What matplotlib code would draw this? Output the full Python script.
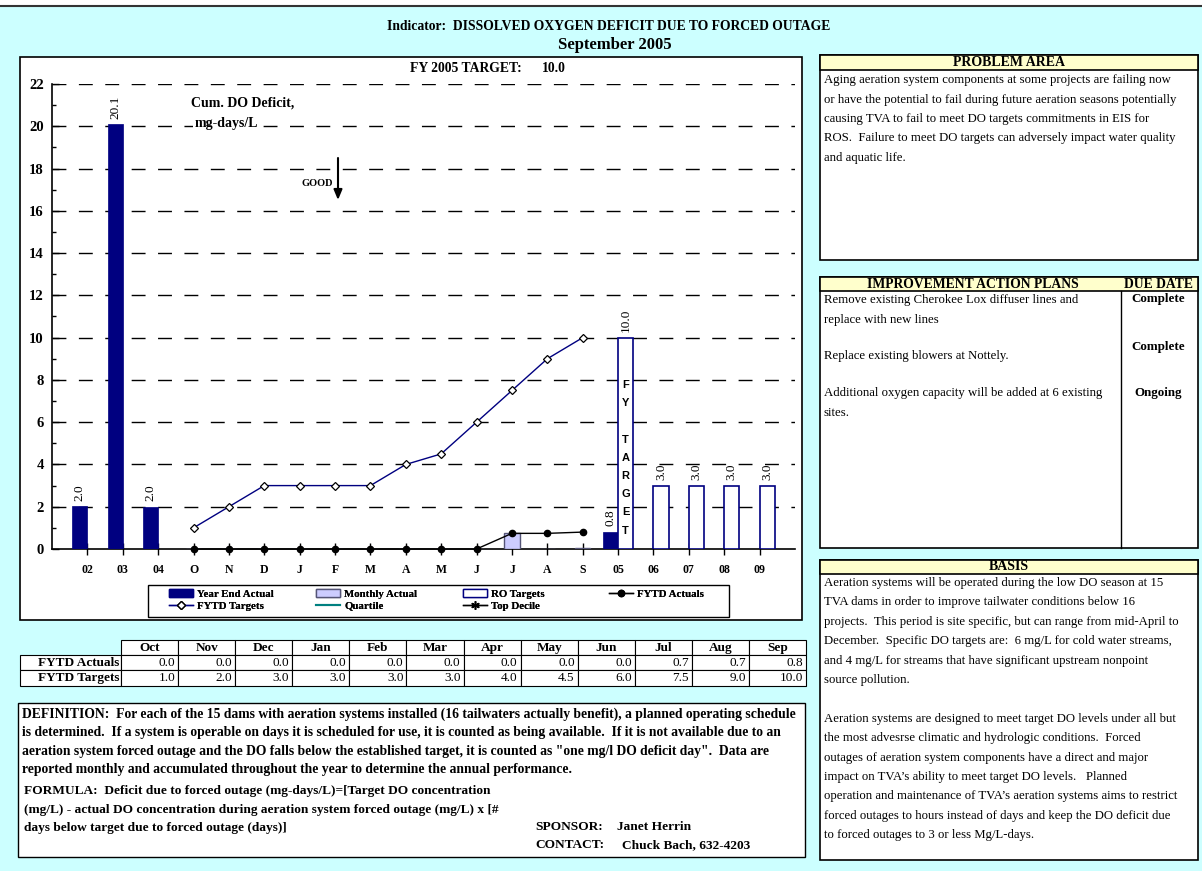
import matplotlib
matplotlib.use("Agg")
import matplotlib.pyplot as plt
from matplotlib.patches import Rectangle, Patch
from matplotlib.lines import Line2D
import numpy as np

# ---------------- data ----------------
history_labels = ["02", "03", "04"]
history_actual = [2.04, 20.1, 2.0]
month_labels = ["O", "N", "D", "J", "F", "M", "A", "M", "J", "J", "A", "S"]
month_names = ["Oct", "Nov", "Dec", "Jan", "Feb", "Mar", "Apr", "May", "Jun", "Jul", "Aug", "Sep"]
monthly_actual = [0, 0, 0, 0, 0, 0, 0, 0, 0, 0.74, 0, 0.06]
fytd_actuals = [0.0, 0.0, 0.0, 0.0, 0.0, 0.0, 0.0, 0.0, 0.0, 0.74, 0.74, 0.8]
fytd_targets = [1.0, 2.0, 3.0, 3.0, 3.0, 3.0, 4.0, 4.5, 6.0, 7.5, 9.0, 10.0]
fy_label = "05"
fy_actual = 0.82
fy_target = 10.0
future_labels = ["06", "07", "08", "09"]
future_targets = [3.0, 3.0, 3.0, 3.0]

categories = history_labels + month_labels + [fy_label] + future_labels

# ---------------- setup ----------------
W, H = 1202, 871
SERIF = "Liberation Serif"
SANS = "Liberation Sans"
CYAN = "#CCFFFF"
YELLOW = "#FFFFCC"
NAVY = "#000080"

fig = plt.figure(figsize=(W / 100, H / 100), dpi=100)
fig.patch.set_facecolor(CYAN)


def P(x, y):
    return (x / W, 1 - y / H)


def ftext(x, y, s, size=9, weight="normal", ha="left", va="center", family=SERIF, **kw):
    return fig.text(x / W, 1 - y / H, s, fontsize=size, fontweight=weight, ha=ha, va=va,
                    family=family, **kw)


def frect(x0, y0, x1, y1, fc="white", ec="black", lw=1.0, z=0):
    fig.add_artist(Rectangle((x0 / W, 1 - y1 / H), (x1 - x0) / W, (y1 - y0) / H,
                             transform=fig.transFigure, facecolor=fc, edgecolor=ec,
                             linewidth=lw, zorder=z))


def fline(x0, y0, x1, y1, color="black", lw=1.0, z=1):
    fig.add_artist(Line2D([x0 / W, x1 / W], [1 - y0 / H, 1 - y1 / H],
                          transform=fig.transFigure, color=color, linewidth=lw, zorder=z))


# top white strip + line
frect(0, 0, W, 6, fc="white", ec="none", z=0)
fline(0, 6, W, 6, color="#333333", lw=1.5)

# titles
ftext(609, 26, "Indicator:  DISSOLVED OXYGEN DEFICIT DUE TO FORCED OUTAGE", size=9.8,
      weight="bold", ha="center")
ftext(615, 45, "September 2005", size=12, weight="bold", ha="center")

# chart frame
frect(20, 57, 802, 620, fc="white", ec="black", lw=1.2, z=0)
ftext(410, 68, "FY 2005 TARGET:", size=9.8, weight="bold")
ftext(542, 68, f"{fy_target:.1f}", size=9.8, weight="bold")

# ---------------- main axes ----------------
ax_l, ax_r, ax_t, ax_b = 52, 795, 84, 549
ax = fig.add_axes([ax_l / W, 1 - ax_b / H, (ax_r - ax_l) / W, (ax_b - ax_t) / H])
ax.patch.set_alpha(0)

n = len(categories)
x = np.arange(n)
w = 0.43
hist_x = x[:3]
month_x = x[3:15]
fy_x = x[15]
fut_x = x[16:]

ye_x = list(hist_x) + [fy_x]
ye_v = history_actual + [fy_actual]
ax.bar(np.array(ye_x) - w / 2, ye_v, width=w, color=NAVY, edgecolor=NAVY, linewidth=0.5, zorder=3)
ax.bar(month_x, monthly_actual, width=w, color="#CCCCFF", edgecolor="#555577", linewidth=1.0, zorder=3)
ro_x = [fy_x] + list(fut_x)
ro_v = [fy_target] + future_targets
ax.bar(np.array(ro_x) + w / 2, ro_v, width=w, color="white", edgecolor=NAVY, linewidth=1.2, zorder=3)

ax.plot(month_x, fytd_targets, color=NAVY, lw=1.0, marker="D", ms=4, mfc="white",
        mec="black", mew=0.9, zorder=5)
ax.plot(month_x, fytd_actuals, color="black", lw=1.0, marker="o", ms=4.5, mfc="black",
        mec="black", zorder=6, clip_on=False)

# value labels
for xi, v in zip(ye_x, ye_v):
    ax.text(xi - w / 2, v + 0.25, f"{v:.1f}", rotation=90, ha="center", va="bottom",
            fontsize=9.5, family=SERIF, zorder=7)
for xi, v in zip(ro_x, ro_v):
    ax.text(xi + w / 2, v + 0.25, f"{v:.1f}", rotation=90, ha="center", va="bottom",
            fontsize=9.5, family=SERIF, zorder=7)

# FY TARGET vertical letters
letters = ["F", "Y", "", "T", "A", "R", "G", "E", "T"]
ly = 7.75
for ch in letters:
    if ch:
        ax.text(fy_x + w / 2, ly, ch, ha="center", va="center", fontsize=8,
                fontweight="bold", family=SANS, zorder=7)
    ly -= 0.86

ax.set_xlim(-1, n)
ax.set_ylim(0, 22)
ax.set_xticks(x)
ax.set_xticklabels(categories, fontsize=8.5, fontweight="bold", family=SERIF)
ax.set_yticks(np.arange(0, 23, 2))
ax.set_yticks(np.arange(1, 22, 2), minor=True)
ax.set_yticklabels([f"{int(v)}" for v in np.arange(0, 23, 2)], fontsize=10.5,
                   fontweight="bold", family=SERIF)
ax.tick_params(axis="x", direction="inout", length=8, width=1, pad=7)
ax.tick_params(axis="y", which="major", direction="in", length=5, width=1, pad=6)
ax.tick_params(axis="y", which="minor", direction="in", length=3, width=1)
for s in ["top", "right"]:
    ax.spines[s].set_visible(False)
ax.spines["left"].set_linewidth(1.2)
ax.spines["bottom"].set_linewidth(1.2)
for yv in np.arange(2, 23, 2):
    ax.axhline(yv, color="black", lw=1.0, dashes=(10, 9), zorder=1)

# annotations inside chart
ax.text((191 - ax_l) / (ax_r - ax_l), (ax_b - 103) / (ax_b - ax_t), "Cum. DO Deficit,",
        transform=ax.transAxes, fontsize=10, fontweight="bold", family=SERIF,
        ha="left", va="center", zorder=10)
ax.text((195 - ax_l) / (ax_r - ax_l), (ax_b - 124) / (ax_b - ax_t), "mg-days/L",
        transform=ax.transAxes, fontsize=10, fontweight="bold", family=SERIF,
        ha="left", va="center", zorder=10,
        bbox=dict(facecolor="white", edgecolor="none", pad=1.5))
ftext(317, 183, "GOOD", size=7.5, weight="bold", ha="center")
ax.annotate("", xy=P(338, 200), xytext=P(338, 158), xycoords="figure fraction",
            textcoords="figure fraction",
            arrowprops=dict(arrowstyle="-|>,head_length=0.6,head_width=0.25", lw=1.5,
                            color="black", shrinkA=0, shrinkB=0))

# legend: frame + four single-column legends
frect(148, 585, 729, 617, fc="white", lw=1.0, z=1)
legend_cols = [
    [Patch(facecolor=NAVY, edgecolor=NAVY, label="Year End Actual"),
     Line2D([], [], color=NAVY, lw=1, marker="D", ms=4, mfc="white", mec="black", label="FYTD Targets")],
    [Patch(facecolor="#CCCCFF", edgecolor="#555577", label="Monthly Actual"),
     Line2D([], [], color="#008080", lw=1.5, label="Quartile")],
    [Patch(facecolor="white", edgecolor=NAVY, label="RO Targets"),
     Line2D([], [], color="black", lw=1, marker=(6, 2, 0), ms=6, mec="black", label="Top Decile")],
    [Line2D([], [], color="black", lw=1, marker="o", ms=4.5, mfc="black", label="FYTD Actuals")],
]
col_x = [169, 316, 463, 609]
for cx, hs in zip(col_x, legend_cols):
    lg = fig.legend(handles=hs, loc="upper left", bbox_to_anchor=P(cx, 589), ncol=1,
                    prop={"family": SERIF, "weight": "bold", "size": 7.8},
                    frameon=False, handlelength=2.2, handleheight=0.7, labelspacing=0.22,
                    borderpad=0, handletextpad=0.4, borderaxespad=0)
    lg.set_zorder(3)
    fig.add_artist(lg)

# ---------------- data table ----------------
tx0, tlab = 20, 121
colw = (806 - 121) / 12
ty = [640, 655, 670, 686]
for i, name in enumerate(month_names):
    cx0 = tlab + i * colw
    frect(cx0, ty[0], cx0 + colw, ty[1], fc="white", lw=0.8, z=1)
    ftext(cx0 + colw / 2, (ty[0] + ty[1]) / 2, name, size=9.5, weight="bold", ha="center")
rows = [("FYTD Actuals", fytd_actuals), ("FYTD Targets", fytd_targets)]
for r, (lab, vals) in enumerate(rows):
    y0, y1 = ty[r + 1], ty[r + 2]
    frect(tx0, y0, tlab, y1, fc="white", lw=0.8, z=1)
    ftext(tlab - 2, (y0 + y1) / 2, lab, size=9.5, weight="bold", ha="right")
    for i, v in enumerate(vals):
        cx0 = tlab + i * colw
        frect(cx0, y0, cx0 + colw, y1, fc="white", lw=0.8, z=1)
        ftext(cx0 + colw - 3, (y0 + y1) / 2, f"{v:.1f}", size=9.5, ha="right")

# ---------------- definition box ----------------
frect(18, 703, 805, 857, fc="white", lw=1.0, z=0)
def_lines = [
    "DEFINITION:  For each of the 15 dams with aeration systems installed (16 tailwaters actually benefit), a planned operating schedule",
    "is determined.  If a system is operable on days it is scheduled for use, it is counted as being available.  If it is not available due to an",
    "aeration system forced outage and the DO falls below the established target, it is counted as \"one mg/l DO deficit day\".  Data are",
    "reported monthly and accumulated throughout the year to determine the annual performance.",
]
for i, s in enumerate(def_lines):
    ftext(22, 714 + i * 18.6, s, size=9.8, weight="bold")
form_lines = [
    "FORMULA:  Deficit due to forced outage (mg-days/L)=[Target DO concentration",
    "(mg/L) - actual DO concentration during aeration system forced outage (mg/L) x [#",
    "days below target due to forced outage (days)]",
]
for i, s in enumerate(form_lines):
    ftext(24, 791 + i * 18.6, s, size=9.6, weight="bold")
ftext(535, 827, "SPONSOR:", size=9.6, weight="bold")
ftext(617, 827, "Janet Herrin", size=9.6, weight="bold")
ftext(535, 845, "CONTACT:", size=9.6, weight="bold")
ftext(622, 845, "Chuck Bach, 632-4203", size=9.6, weight="bold")

# ---------------- right panels ----------------
def panel(y0, y1, hdr_h=15):
    frect(820, y0, 1198, y1, fc="white", lw=1.2, z=0)
    frect(820, y0, 1198, y0 + hdr_h, fc=YELLOW, lw=1.2, z=1)

BODY = 9.2
panel(55, 260)
ftext(1009, 62, "PROBLEM AREA", size=10, weight="bold", ha="center")
prob_lines = [
    "Aging aeration system components at some projects are failing now",
    "or have the potential to fail during future aeration seasons potentially",
    "causing TVA to fail to meet DO targets commitments in EIS for",
    "ROS.  Failure to meet DO targets can adversely impact water quality",
    "and aquatic life.",
]
for i, s in enumerate(prob_lines):
    ftext(824, 80 + i * 19.5, s, size=BODY)

panel(277, 548, hdr_h=14)
ftext(973, 284, "IMPROVEMENT ACTION PLANS", size=9.8, weight="bold", ha="center")
ftext(1158, 284, "DUE DATE", size=9.8, weight="bold", ha="center")
fline(1121, 291, 1121, 548, lw=1.0, z=2)
plan_lines = [
    (300, "Remove existing Cherokee Lox diffuser lines and"),
    (320, "replace with new lines"),
    (356, "Replace existing blowers at Nottely."),
    (393, "Additional oxygen capacity will be added at 6 existing"),
    (413, "sites."),
]
for yy, s in plan_lines:
    ftext(824, yy, s, size=BODY)
for yy, s in [(299, "Complete"), (347, "Complete"), (393, "Ongoing")]:
    ftext(1158, yy, s, size=9.4, weight="bold", ha="center")

panel(560, 860, hdr_h=14)
ftext(1009, 567, "BASIS", size=10, weight="bold", ha="center")
basis_lines = [
    "Aeration systems will be operated during the low DO season at 15",
    "TVA dams in order to improve tailwater conditions below 16",
    "projects.  This period is site specific, but can range from mid-April to",
    "December.  Specific DO targets are:  6 mg/L for cold water streams,",
    "and 4 mg/L for streams that have significant upstream nonpoint",
    "source pollution.",
    "",
    "Aeration systems are designed to meet target DO levels under all but",
    "the most advesrse climatic and hydrologic conditions.  Forced",
    "outages of aeration system components have a direct and major",
    "impact on TVA\u2019s ability to meet target DO levels.   Planned",
    "operation and maintenance of TVA\u2019s aeration systems aims to restrict",
    "forced outages to hours instead of days and keep the DO deficit due",
    "to forced outages to 3 or less Mg/L-days.",
]
for i, s in enumerate(basis_lines):
    if s:
        ftext(824, 583 + i * 19.4, s, size=BODY)

fig.savefig("out.png", dpi=100, facecolor=fig.get_facecolor())
